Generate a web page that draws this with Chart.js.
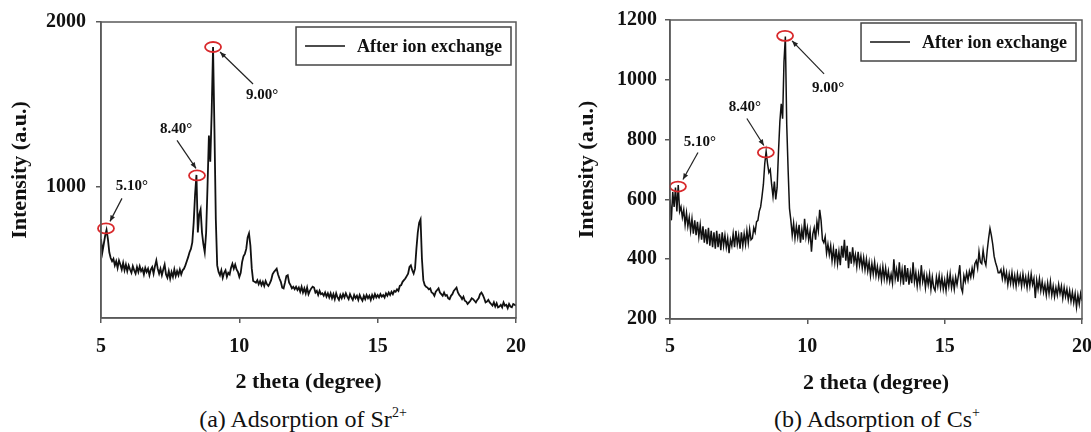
<!DOCTYPE html>
<html lang="en">
<head>
<meta charset="UTF-8" />
<title>XRD patterns after ion exchange</title>
<style>
  body{margin:0;background:#fff;width:1091px;height:432px;overflow:hidden;position:relative;font-family:"Liberation Serif","Times New Roman",serif;color:#111;}
  .panel{position:absolute;top:0;height:400px;}
  #pa{left:0;width:545px;}
  #pb{left:545px;width:546px;}
  .cap{position:absolute;top:406px;width:400px;text-align:center;font-size:24px;line-height:26px;}
  .cap sup{font-size:14px;line-height:0;vertical-align:10px;}
</style>
<script src="https://cdn.jsdelivr.net/npm/chart.js@4.4.0/dist/chart.umd.min.js"></script>
</head>
<body>
<div class="panel" id="pa"><canvas id="chartSr"></canvas></div>
<div class="panel" id="pb"><canvas id="chartCs"></canvas></div>
<div class="cap" style="left:103px">(a) Adsorption of Sr<sup>2+</sup></div>
<div class="cap" style="left:677px">(b) Adsorption of Cs<sup>+</sup></div>

<script>
// ===== 2θ grid (degree) =====
const theta = [
  5,5.05,5.1,5.15,5.2,5.25,5.3,5.35,5.4,5.45,5.5,5.55,5.6,5.65,5.7,5.75,5.8,5.85,5.9,5.95,
  6,6.05,6.1,6.15,6.2,6.25,6.3,6.35,6.4,6.45,6.5,6.55,6.6,6.65,6.7,6.75,6.8,6.85,6.9,6.95,
  7,7.05,7.1,7.15,7.2,7.25,7.3,7.35,7.4,7.45,7.5,7.55,7.6,7.65,7.7,7.75,7.8,7.85,7.9,7.95,
  8,8.05,8.1,8.15,8.2,8.25,8.3,8.35,8.4,8.45,8.5,8.55,8.6,8.65,8.7,8.75,8.8,8.85,8.9,8.95,
  9,9.05,9.1,9.15,9.2,9.25,9.3,9.35,9.4,9.45,9.5,9.55,9.6,9.65,9.7,9.75,9.8,9.85,9.9,9.95,
  10,10.05,10.1,10.15,10.2,10.25,10.3,10.35,10.4,10.45,10.5,10.55,10.6,10.65,10.7,10.75,10.8,10.85,10.9,10.95,
  11,11.05,11.1,11.15,11.2,11.25,11.3,11.35,11.4,11.45,11.5,11.55,11.6,11.65,11.7,11.75,11.8,11.85,11.9,11.95,
  12,12.05,12.1,12.15,12.2,12.25,12.3,12.35,12.4,12.45,12.5,12.55,12.6,12.65,12.7,12.75,12.8,12.85,12.9,12.95,
  13,13.05,13.1,13.15,13.2,13.25,13.3,13.35,13.4,13.45,13.5,13.55,13.6,13.65,13.7,13.75,13.8,13.85,13.9,13.95,
  14,14.05,14.1,14.15,14.2,14.25,14.3,14.35,14.4,14.45,14.5,14.55,14.6,14.65,14.7,14.75,14.8,14.85,14.9,14.95,
  15,15.05,15.1,15.15,15.2,15.25,15.3,15.35,15.4,15.45,15.5,15.55,15.6,15.65,15.7,15.75,15.8,15.85,15.9,15.95,
  16,16.05,16.1,16.15,16.2,16.25,16.3,16.35,16.4,16.45,16.5,16.55,16.6,16.65,16.7,16.75,16.8,16.85,16.9,16.95,
  17,17.05,17.1,17.15,17.2,17.25,17.3,17.35,17.4,17.45,17.5,17.55,17.6,17.65,17.7,17.75,17.8,17.85,17.9,17.95,
  18,18.05,18.1,18.15,18.2,18.25,18.3,18.35,18.4,18.45,18.5,18.55,18.6,18.65,18.7,18.75,18.8,18.85,18.9,18.95,
  19,19.05,19.1,19.15,19.2,19.25,19.3,19.35,19.4,19.45,19.5,19.55,19.6,19.65,19.7,19.75,19.8,19.85,19.9,19.95,
  20
];

// ===== (a) Sr2+ intensity (a.u.) =====
const srIntensity = [
  680,600,650,700,735,680,600,565,545,560,520,545,505,550,525,495,535,490,525,485,
  520,495,475,515,490,470,510,480,515,485,500,465,505,480,500,460,495,510,470,515,
  550,500,470,500,460,495,525,465,445,485,440,480,450,495,455,485,460,495,465,490,
  500,520,545,570,600,620,660,780,950,1070,720,830,860,720,650,600,720,1000,1310,1150,
  1450,1848,1350,800,520,480,460,490,445,475,490,450,475,465,505,530,500,525,495,480,
  450,475,540,575,590,620,690,715,640,500,425,420,415,430,405,425,400,420,395,425,
  405,395,410,430,465,480,490,500,465,440,420,385,380,415,455,460,415,400,380,390,
  375,390,370,385,360,390,355,380,350,385,345,365,380,390,385,355,365,340,365,345,
  350,335,355,330,350,325,350,320,345,315,350,325,310,340,320,345,325,350,330,315,
  345,325,310,340,320,335,310,340,320,305,335,315,340,320,335,310,340,320,345,325,
  340,325,345,330,340,325,350,335,355,340,360,345,365,360,375,365,395,400,420,430,
  440,455,470,510,520,490,470,500,620,720,780,800,560,430,400,390,385,375,380,355,
  350,335,360,370,380,355,345,335,355,335,340,320,315,335,345,365,375,385,355,340,
  330,315,330,305,300,285,295,305,320,315,305,295,310,320,345,355,340,320,295,300,
  310,295,285,275,295,270,290,265,270,280,265,295,275,280,260,285,270,265,285,280,
  275
];

// ===== (b) Cs+ intensity (a.u.) =====
const csIntensity = [
  600,530,625,575,640,560,648,560,575,540,565,515,555,510,540,495,535,485,530,480,
  525,475,515,465,510,455,500,450,505,445,495,440,490,435,495,440,485,430,490,445,
  480,440,470,420,465,445,485,440,495,450,480,435,490,445,485,450,495,455,500,465,
  470,505,490,525,530,560,575,610,650,720,760,720,690,700,650,610,660,600,640,760,
  860,920,870,1060,1145,850,700,570,530,480,520,470,510,475,515,455,500,465,535,475,
  505,465,495,425,485,505,465,525,495,565,530,465,455,475,420,450,415,445,395,435,
  390,435,385,425,380,445,405,465,395,445,370,425,385,440,390,415,375,425,380,410,
  370,405,365,400,360,390,345,385,350,390,345,375,340,370,330,375,335,370,330,360,
  325,350,320,400,335,365,325,390,330,365,315,380,325,370,315,355,320,390,325,355,
  310,350,315,380,325,350,305,345,315,350,300,340,305,295,340,310,345,305,340,300,
  330,295,345,310,350,305,335,300,340,315,345,380,305,290,345,325,355,330,360,340,
  370,345,385,395,370,425,390,385,430,395,380,430,470,503,480,450,410,390,375,355,
  355,365,335,365,330,355,315,350,320,355,315,345,310,350,320,345,310,350,315,340,
  305,345,310,350,315,335,270,330,300,335,295,325,290,315,280,320,285,325,280,310,
  275,305,280,315,285,310,270,305,275,300,265,295,260,290,255,285,240,280,250,285,
  260
];

// ===== axes ticks =====
const xTicks = [5, 10, 15, 20];
const srYTicks = [1000, 2000];
const csYTicks = [200, 400, 600, 800, 1000, 1200];

// ===== marked peaks =====
const peakLabels = ['5.10°', '8.40°', '9.00°'];
const srPeakTheta = [5.18, 8.47, 9.05];
const srPeakIntensity = [745, 1067, 1848];
const csPeakTheta = [5.29, 8.49, 9.19];
const csPeakIntensity = [643, 757, 1147];

const serif = '"Liberation Serif", "Times New Roman", serif';
const axisGrey = '#5a5a5a';

// label / arrow offsets from each circle: [labelDx, labelDy, fromDx, fromDy, toDx, toDy]
const srMarkLayout = [[26,-42,16,-30,4,-7],[-21,-46,-20,-35,-1,-7],[49,48,40,37,7,5]];
const csMarkLayout = [[22,-44,20,-34,5,-7],[-21,-45,-19,-34,-2,-7],[43,52,39,38,7,5]];

// plot frame
const framePlugin = {
  id:'frame',
  afterDraw(chart){
    const {ctx, chartArea:a} = chart;
    ctx.save();
    ctx.strokeStyle = axisGrey; ctx.lineWidth = 1.5;
    ctx.strokeRect(a.left, a.top, a.right - a.left, a.bottom - a.top);
    ctx.restore();
  }
};

// boxed legend, top right inside plot
const legendBoxPlugin = {
  id:'legendBox',
  afterDraw(chart, args, o){
    const {ctx, chartArea:a} = chart;
    ctx.save();
    ctx.font = 'bold 18px ' + serif;
    const tw = ctx.measureText(o.text).width;
    const w = 9 + 40 + 12 + tw + 9, h = 38;
    const x = a.right - o.right - w, y = a.top + o.top;
    ctx.fillStyle = '#fff'; ctx.fillRect(x, y, w, h);
    ctx.strokeStyle = '#444'; ctx.lineWidth = 1.5; ctx.strokeRect(x, y, w, h);
    ctx.beginPath(); ctx.moveTo(x + 9, y + h/2); ctx.lineTo(x + 49, y + h/2);
    ctx.strokeStyle = '#111'; ctx.lineWidth = 1.3; ctx.stroke();
    ctx.fillStyle = '#111'; ctx.textBaseline = 'middle';
    ctx.fillText(o.text, x + 61, y + h/2 + 1);
    ctx.restore();
  }
};

// red circles, arrows and angle labels
const peakMarkPlugin = {
  id:'peakMarks',
  afterDatasetsDraw(chart, args, o){
    const {ctx, scales:{x, y}} = chart;
    ctx.save();
    o.theta.forEach((t, i) => {
      const px = x.getPixelForValue(t), py = y.getPixelForValue(o.intensity[i]);
      const [lx, ly, fx, fy, tx, ty] = o.layout[i];
      ctx.beginPath(); ctx.ellipse(px, py, 8, 5, 0, 0, Math.PI * 2);
      ctx.strokeStyle = '#d8282b'; ctx.lineWidth = 1.8; ctx.stroke();
      const x0 = px + fx, y0 = py + fy, x1 = px + tx, y1 = py + ty;
      ctx.beginPath(); ctx.moveTo(x0, y0); ctx.lineTo(x1, y1);
      ctx.strokeStyle = '#222'; ctx.lineWidth = 1.2; ctx.stroke();
      const ang = Math.atan2(y1 - y0, x1 - x0);
      ctx.beginPath();
      ctx.moveTo(x1, y1);
      ctx.lineTo(x1 - 6*Math.cos(ang) + 2.5*Math.sin(ang), y1 - 6*Math.sin(ang) - 2.5*Math.cos(ang));
      ctx.lineTo(x1 - 6*Math.cos(ang) - 2.5*Math.sin(ang), y1 - 6*Math.sin(ang) + 2.5*Math.cos(ang));
      ctx.closePath(); ctx.fillStyle = '#222'; ctx.fill();
      ctx.font = 'bold 15px ' + serif; ctx.fillStyle = '#111';
      ctx.textAlign = 'center'; ctx.textBaseline = 'middle';
      ctx.fillText(o.labels[i], px + lx, py + ly);
    });
    ctx.restore();
  }
};

function xrdChart(id, values, cfg){
  return new Chart(document.getElementById(id), {
    type:'line',
    data:{
      datasets:[{
        label:'After ion exchange',
        data: theta.map((t, i) => ({x:t, y:values[i]})),
        borderColor:'#111',
        borderWidth:cfg.lineWidth,
        pointRadius:0,
        tension:0,
        fill:false
      }]
    },
    options:{
      responsive:true,
      maintainAspectRatio:false,
      animation:false,
      events:[],
      layout:{padding:cfg.padding},
      plugins:{
        legend:{display:false},
        tooltip:{enabled:false},
        legendBox:{text:'After ion exchange', right:cfg.legendRight, top:cfg.legendTop},
        peakMarks:{theta:cfg.peakTheta, intensity:cfg.peakIntensity, labels:peakLabels, layout:cfg.markLayout}
      },
      scales:{
        x:{
          type:'linear', min:5, max:20,
          afterBuildTicks: ax => { ax.ticks = xTicks.map(v => ({value:v})); },
          afterFit: ax => { ax.height = cfg.xHeight; ax.paddingLeft = 0; ax.paddingRight = 0; },
          grid:{drawOnChartArea:false, tickLength:5, color:axisGrey, lineWidth:1.5},
          border:{color:axisGrey, width:1.5},
          ticks:{padding:cfg.xTickPad, color:'#111', callback:v => String(v),
                 font:{family:serif, size:20, weight:'bold'}},
          title:{display:true, text:'2 theta (degree)', color:'#111',
                 font:{family:serif, size:22, weight:'bold'}, padding:{top:0, bottom:cfg.xTitlePad}}
        },
        y:{
          min:cfg.yMin, max:cfg.yMax,
          afterBuildTicks: ax => { ax.ticks = cfg.yTicks.map(v => ({value:v})); },
          afterFit: ax => { ax.width = 101; },
          grid:{drawOnChartArea:false, tickLength:5, color:axisGrey, lineWidth:1.5},
          border:{color:axisGrey, width:1.5},
          ticks:{padding:cfg.yTickPad, color:'#111', callback:v => String(v),
                 font:{family:serif, size:20, weight:'bold'}},
          title:{display:true, text:'Intensity (a.u.)', color:'#111',
                 font:{family:serif, size:22, weight:'bold'}, padding:{top:cfg.yTitlePad, bottom:0}}
        }
      }
    },
    plugins:[framePlugin, peakMarkPlugin, legendBoxPlugin]
  });
}

xrdChart('chartSr', srIntensity, {
  lineWidth:1.8, padding:{left:0, right:29, top:21, bottom:0},
  yMin:200, yMax:2000, yTicks:srYTicks, yTickPad:10, yTitlePad:7,
  xHeight:82, xTickPad:12, xTitlePad:4,
  legendRight:5, legendTop:5,
  peakTheta:srPeakTheta, peakIntensity:srPeakIntensity, markLayout:srMarkLayout
});

xrdChart('chartCs', csIntensity, {
  lineWidth:1.5, padding:{left:24, right:9, top:19, bottom:0},
  yMin:200, yMax:1200, yTicks:csYTicks, yTickPad:8, yTitlePad:5,
  xHeight:81, xTickPad:11, xTitlePad:3,
  legendRight:6, legendTop:3,
  peakTheta:csPeakTheta, peakIntensity:csPeakIntensity, markLayout:csMarkLayout
});
</script>
</body>
</html>
